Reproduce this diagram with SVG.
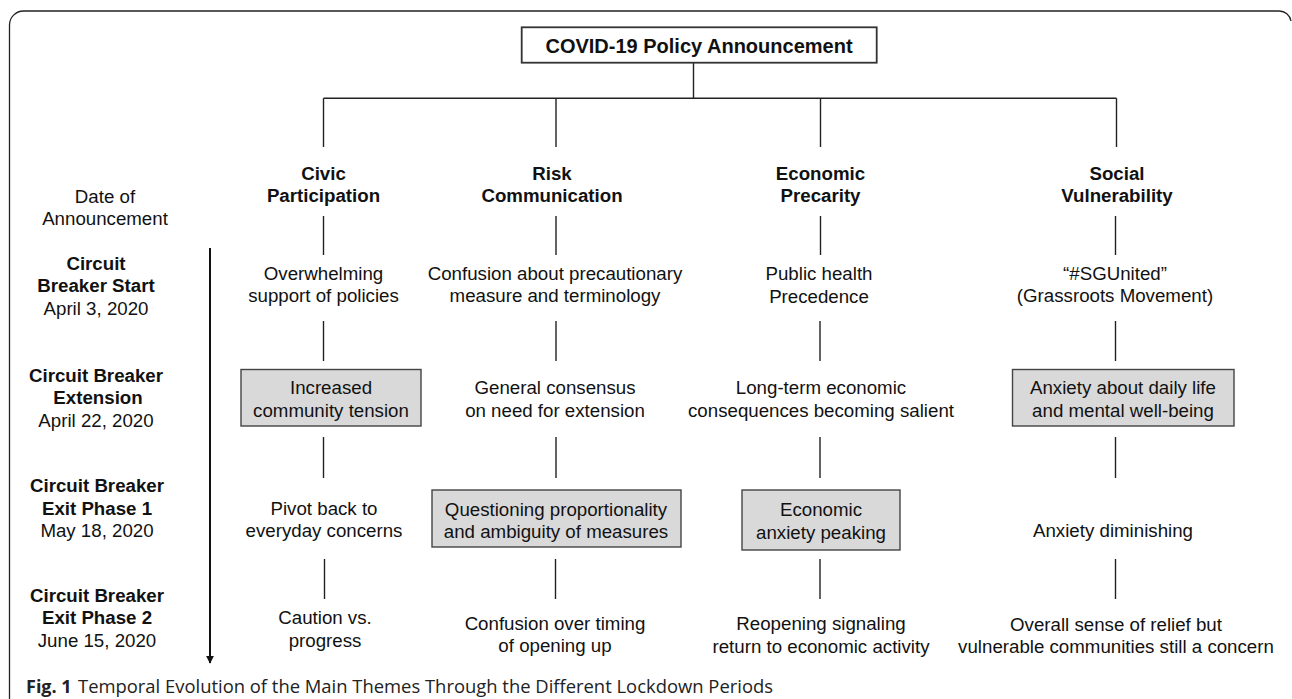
<svg xmlns="http://www.w3.org/2000/svg" width="1292" height="699" viewBox="0 0 1292 699">
<defs>
<style>
text{font-family:"Liberation Sans",Arial,sans-serif;font-size:18.7px;fill:#111;text-anchor:middle}
.b{font-weight:bold}
.t{font-size:20px;font-weight:bold}
.ln{stroke:#222;stroke-width:1.4;fill:none}
.box{fill:#d9d9d9;stroke:#444;stroke-width:1.4}
.cap{font-family:"Open Sans","Noto Sans",sans-serif;font-size:18px;text-anchor:start;fill:#222}
</style>
<marker id="ah" viewBox="0 0 10 10" refX="9" refY="5" markerWidth="8" markerHeight="8" markerUnits="userSpaceOnUse" orient="auto">
<path d="M0,0 L10,5 L0,10 z" fill="#111"/>
</marker>
</defs>
<rect width="1292" height="699" fill="#fff"/>
<path d="M9.5,699 V25 A14,14 0 0 1 23.5,11 H1279 A12,12 0 0 1 1291,21" fill="none" stroke="#222" stroke-width="1.3"/>

<g id="connectors">
<path class="ln" d="M693.5,62.7 V98.3 M323.5,98.3 H1116.5 M323.5,98.3 V147 M556,98.3 V147 M820.5,98.3 V147 M1116.5,98.3 V147"/>
<path class="ln" d="M323.5,216 V255 M323.5,321 V361 M323.5,437 V478 M324.5,559 V599"/>
<path class="ln" d="M556,216 V255 M556,321 V361 M556,437 V478 M555.5,559 V599"/>
<path class="ln" d="M820.5,216 V255 M820,321 V361 M820,437 V478 M820,559 V599"/>
<path class="ln" d="M1115.5,216 V255 M1115.5,321 V361 M1115.5,437 V478 M1115.5,559 V599"/>
<line x1="210" y1="248" x2="210" y2="663" stroke="#111" stroke-width="2" marker-end="url(#ah)"/>
</g>

<g id="title">
<rect x="521.7" y="27.3" width="355" height="35.4" fill="#fff" stroke="#333" stroke-width="1.8"/>
<text class="t" x="699" y="53.3">COVID-19 Policy Announcement</text>
</g>

<g id="row-labels">
<text x="105" y="202.5">Date of</text>
<text x="105" y="225">Announcement</text>
<text class="b" x="96" y="270">Circuit</text>
<text class="b" x="96" y="292">Breaker Start</text>
<text x="96" y="315">April 3, 2020</text>
<text class="b" x="96" y="381.5">Circuit Breaker</text>
<text class="b" x="98" y="404">Extension</text>
<text x="96" y="426.5">April 22, 2020</text>
<text class="b" x="97" y="491.5">Circuit Breaker</text>
<text class="b" x="97" y="514.5">Exit Phase 1</text>
<text x="97" y="536.5">May 18, 2020</text>
<text class="b" x="97" y="601.5">Circuit Breaker</text>
<text class="b" x="97" y="624">Exit Phase 2</text>
<text x="97" y="647">June 15, 2020</text>
</g>

<g id="civic">
<text class="b" x="323.5" y="180">Civic</text>
<text class="b" x="323.5" y="202">Participation</text>
</g>
<g id="civic-1"><text x="323.5" y="280">Overwhelming</text><text x="323.5" y="302">support of policies</text></g>
<g id="civic-2"><rect class="box" x="241" y="369.5" width="180" height="56.5"/><text x="331" y="394">Increased</text><text x="331" y="416.5">community tension</text></g>
<g id="civic-3"><text x="324" y="514.5">Pivot back to</text><text x="324" y="536.5">everyday concerns</text></g>
<g id="civic-4"><text x="325" y="624">Caution vs.</text><text x="325" y="646.5">progress</text></g>

<g id="risk">
<text class="b" x="552" y="180">Risk</text>
<text class="b" x="552" y="202">Communication</text>
</g>
<g id="risk-1"><text x="555" y="280">Confusion about precautionary</text><text x="555" y="302">measure and terminology</text></g>
<g id="risk-2"><text x="555" y="394">General consensus</text><text x="555" y="416.5">on need for extension</text></g>
<g id="risk-3"><rect class="box" x="432" y="490" width="249" height="57"/><text x="556" y="515.5">Questioning proportionality</text><text x="556" y="537.5">and ambiguity of measures</text></g>
<g id="risk-4"><text x="555" y="629.5">Confusion over timing</text><text x="555" y="652">of opening up</text></g>

<g id="econ">
<text class="b" x="820.5" y="180">Economic</text>
<text class="b" x="820.5" y="202">Precarity</text>
</g>
<g id="econ-1"><text x="819" y="280">Public health</text><text x="819" y="303">Precedence</text></g>
<g id="econ-2"><text x="821" y="394">Long-term economic</text><text x="821" y="416.5">consequences becoming salient</text></g>
<g id="econ-3"><rect class="box" x="742" y="490" width="158" height="60"/><text x="821" y="516">Economic</text><text x="821" y="539">anxiety peaking</text></g>
<g id="econ-4"><text x="821" y="630">Reopening signaling</text><text x="821" y="652.5">return to economic activity</text></g>

<g id="social">
<text class="b" x="1117" y="180">Social</text>
<text class="b" x="1117" y="202">Vulnerability</text>
</g>
<g id="social-1"><text x="1115" y="279.5">“#SGUnited”</text><text x="1115" y="301.5">(Grassroots Movement)</text></g>
<g id="social-2"><rect class="box" x="1012.5" y="369.5" width="221.5" height="56.5"/><text x="1123" y="394">Anxiety about daily life</text><text x="1123" y="416.5">and mental well-being</text></g>
<g id="social-3"><text x="1113" y="537">Anxiety diminishing</text></g>
<g id="social-4"><text x="1116" y="630.5">Overall sense of relief but</text><text x="1116" y="653">vulnerable communities still a concern</text></g>

<g id="caption">
<text class="cap" x="26" y="693" font-weight="bold">Fig. 1</text>
<text class="cap" x="78" y="693" textLength="695" lengthAdjust="spacingAndGlyphs">Temporal Evolution of the Main Themes Through the Different Lockdown Periods</text>
</g>
</svg>
